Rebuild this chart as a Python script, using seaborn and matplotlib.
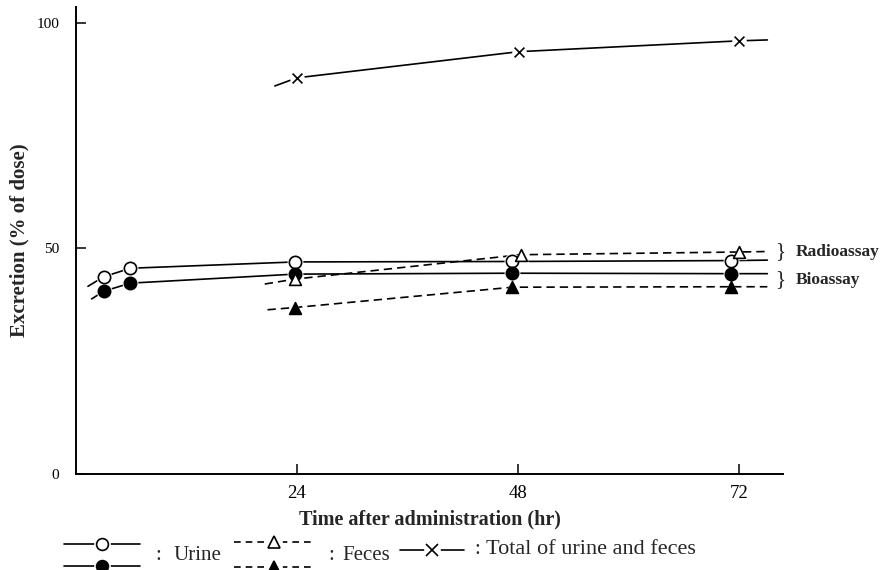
import matplotlib
matplotlib.use("Agg")
import matplotlib.pyplot as plt
import pandas as pd
import seaborn as sns
from matplotlib.lines import Line2D

sns.set_theme(style="ticks")
plt.rcParams["font.family"] = ["Liberation Serif", "DejaVu Serif"]

# Excretion (% of dose) after administration, sampled at times in hr
urine_radio_t = [3.0, 5.9, 23.8, 47.4, 71.2]
urine_radio_y = [43.7, 45.6, 47.0, 47.1, 47.3]
urine_bio_t = [3.0, 5.9, 23.8, 47.4, 71.2]
urine_bio_y = [40.5, 42.3, 44.3, 44.5, 44.4]
feces_radio_t = [23.8, 48.3, 72.0]
feces_radio_y = [43.2, 48.6, 49.2]
feces_bio_t = [23.8, 47.4, 71.2]
feces_bio_y = [36.9, 41.4, 41.5]
total_t = [24.0, 48.1, 72.0]
total_y = [87.8, 93.6, 96.0]

# where each hand-drawn curve starts and stops beyond its samples
urine_radio_ends = [(1.3, 41.6), (75.1, 47.4)]
urine_bio_ends = [(1.7, 38.8), (75.1, 44.4)]
feces_radio_ends = [(20.5, 42.1), (74.8, 49.3)]
feces_bio_ends = [(20.8, 36.4), (75.1, 41.5)]
total_ends = [(21.6, 86.0), (75.1, 96.2)]

x_ticks = [24, 48, 72]
y_ticks = [0, 50, 100]

series = [
    # name, times, values, curve ends, marker, filled, dashed
    ("urine_radio", urine_radio_t, urine_radio_y, urine_radio_ends, "o", False, False),
    ("urine_bio", urine_bio_t, urine_bio_y, urine_bio_ends, "o", True, False),
    ("feces_radio", feces_radio_t, feces_radio_y, feces_radio_ends, "^", False, True),
    ("feces_bio", feces_bio_t, feces_bio_y, feces_bio_ends, "^", True, True),
    ("total", total_t, total_y, total_ends, "x", True, False),
]

curve_rows = []
point_rows = []
for name, ts, ys, ends, mk, filled, dashed in series:
    (t0, y0), (t1, y1) = ends
    for t, y in zip([t0] + ts + [t1], [y0] + ys + [y1]):
        curve_rows.append({"series": name, "t": t, "y": y})
    for t, y in zip(ts, ys):
        point_rows.append({"series": name, "t": t, "y": y})
curves = pd.DataFrame(curve_rows)
points = pd.DataFrame(point_rows)

fig = plt.figure(figsize=(8.87, 5.70), dpi=100)
ax = fig.add_axes([76 / 887, 96 / 570, 707 / 887, 467 / 570])

dash = (5, 3)
names = [s[0] for s in series]
sns.lineplot(
    data=curves, x="t", y="y", hue="series", style="series",
    palette={n: "black" for n in names},
    dashes={s[0]: (dash if s[6] else "") for s in series},
    sort=False, estimator=None, legend=False, linewidth=1.2, ax=ax, zorder=2,
)

for name, ts, ys, ends, mk, filled, dashed in series:
    sub = points[points["series"] == name]
    if mk == "x":
        sns.scatterplot(data=sub, x="t", y="y", marker="o", s=110, color="white",
                        linewidth=0, ax=ax, zorder=3, legend=False)
        sns.scatterplot(data=sub, x="t", y="y", marker="x", s=50, color="black",
                        linewidth=1.2, ax=ax, zorder=4, legend=False)
    else:
        halo = 130 if mk == "o" else 120
        size = 78 if mk == "o" else 72
        sns.scatterplot(data=sub, x="t", y="y", marker=mk, s=halo, color="white",
                        linewidth=0, ax=ax, zorder=3, legend=False)
        sns.scatterplot(data=sub, x="t", y="y", marker=mk, s=size,
                        facecolor="black" if filled else "white",
                        edgecolor="black", linewidth=1.2, ax=ax, zorder=4,
                        legend=False)

ax.set_xlim(0, 76.8)
ax.set_ylim(0, 103.5)
ax.set_xticks(x_ticks)
ax.set_yticks(y_ticks)
ax.set_xticklabels([str(v) for v in x_ticks], fontsize=13.5)
ax.set_yticklabels([str(v) for v in y_ticks], fontsize=11)
ax.tick_params(axis="both", direction="in", length=7, width=1.1, color="black",
               labelcolor="black")
ax.tick_params(axis="x", pad=8)
ax.tick_params(axis="y", pad=12)
for side in ("top", "right"):
    ax.spines[side].set_visible(False)
for side in ("left", "bottom"):
    ax.spines[side].set_linewidth(1.4)
    ax.spines[side].set_color("black")

ax.set_xlabel("Time after administration (hr)", fontsize=14.5, fontweight="bold",
              labelpad=5)
ax.set_ylabel("Excretion (% of dose)", fontsize=15, fontweight="bold", labelpad=5)

# assay braces on the right
for label, yv in (("Radioassay", 49.2), ("Bioassay", 43.1)):
    ax.text(75.9, yv, "}", fontsize=15, va="center", ha="left", clip_on=False)
    ax.text(78.2, yv, label, fontsize=12.5, fontweight="bold", va="center",
            ha="left", clip_on=False)

# key along the bottom
W, H = 887, 570


def fx(px):
    return px / W


def fy(py):
    return 1 - py / H


def key(x0, x1, yp, marker, filled, dashed):
    ls = (0, (4, 3)) if dashed else "-"
    fig.add_artist(Line2D([fx(x0), fx(x1)], [fy(yp), fy(yp)], color="black",
                          lw=1.2, ls=ls))
    xm = (x0 + x1) / 2
    fig.add_artist(Line2D([fx(xm)], [fy(yp)], marker="o", ms=11, color="white",
                          mec="white", ls=""))
    fig.add_artist(Line2D([fx(xm)], [fy(yp)], marker=marker, ms=8.5,
                          mfc="black" if filled else "white", mec="black",
                          mew=1.2, ls=""))


def caption(xc, xt, yp, text, size=15):
    fig.text(fx(xc), fy(yp), ":", fontsize=15, va="center", ha="left")
    fig.text(fx(xt), fy(yp), text, fontsize=size, va="center", ha="left")


key(64, 140, 544, "o", False, False)
key(64, 140, 566, "o", True, False)
caption(155, 174, 555, "Urine")
key(234, 313, 542, "^", False, True)
key(234, 313, 567, "^", True, True)
caption(328, 342, 556, "Feces")
key(400, 464, 550, "x", True, False)
caption(474, 486, 550, "Total of urine and feces", size=16)

fig.savefig("out.png", dpi=100, facecolor="white")
